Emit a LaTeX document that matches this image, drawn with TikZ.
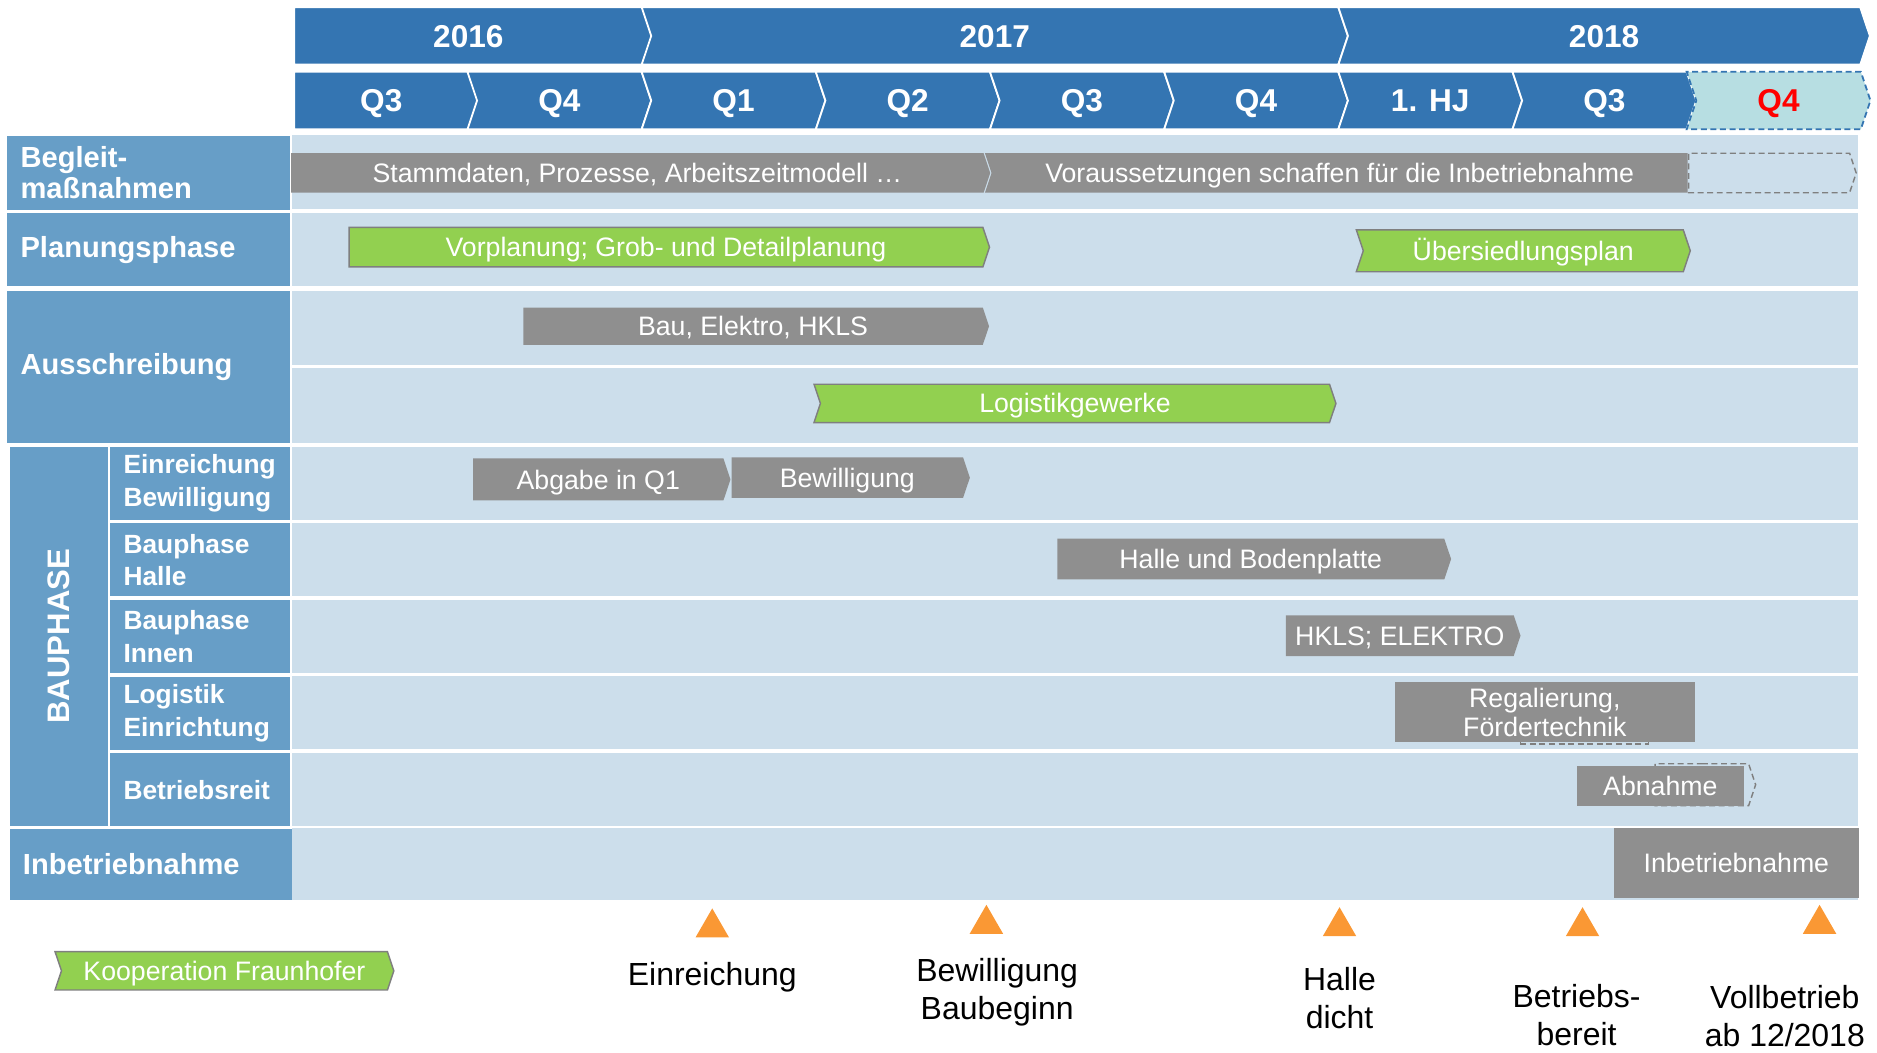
\documentclass[tikz,border=0pt]{standalone}
\usepackage{fontspec}
\setmainfont{Liberation Sans}
\usepackage{tikz}
\usetikzlibrary{shapes,arrows}
\definecolor{hdblue}{RGB}{52,117,178}
\definecolor{lblue}{RGB}{103,158,199}
\definecolor{rowbg}{RGB}{204,222,235}
\definecolor{bargray}{RGB}{143,143,143}
\definecolor{bargreen}{RGB}{146,208,80}
\definecolor{edgegray}{RGB}{127,127,127}
\definecolor{qteal}{RGB}{183,222,226}
\definecolor{msorange}{RGB}{250,152,52}
\newcommand{\fnthead}{\fontsize{26.4}{30}\selectfont\bfseries}
\newcommand{\fntrow}{\fontsize{24.3}{26}\selectfont\bfseries}
\newcommand{\fntsub}{\fontsize{22}{27}\selectfont\bfseries}
\newcommand{\fntbau}{\fontsize{26}{30}\selectfont\bfseries}
\newcommand{\fntbar}{\fontsize{22.3}{24}\selectfont}
\newcommand{\fntms}{\fontsize{26.7}{32}\selectfont}
\tikzstyle{yearbox} = [signal, signal to=east, signal from=nowhere, signal pointer angle=143,
    fill=hdblue, draw=white, line width=1.5pt, text=white, font=\fnthead, minimum height=48pt,
    inner sep=0pt, text height=19pt, text depth=0pt]
\tikzstyle{graybar} = [signal, signal to=east, signal from=nowhere, signal pointer angle=143,
    fill=bargray, text=white, font=\fntbar, inner sep=0pt, text height=16pt, text depth=0pt]
\tikzstyle{greenbar} = [graybar, fill=bargreen, draw=edgegray, line width=1.2pt]
\tikzstyle{dashbar} = [graybar, fill=none, draw=edgegray, dash pattern=on 5pt off 3pt, line width=1.2pt]
\tikzstyle{graybox} = [rectangle, fill=bargray, text=white, font=\fntbar, inner sep=0pt, align=center]
\tikzstyle{dashbox} = [rectangle, draw=edgegray, dash pattern=on 5pt off 3pt, line width=1.2pt]
\tikzstyle{rowlabel} = [rectangle, fill=lblue, text=white, font=\fntrow, anchor=north west, align=left,
    inner xsep=11pt, inner ysep=0pt, minimum width=236pt, text width=214pt]
\tikzstyle{sublabel} = [rowlabel, font=\fntsub, minimum width=150pt, text width=128pt]
\tikzstyle{milestone} = [regular polygon, regular polygon sides=3, fill=msorange, minimum size=32.3pt, inner sep=0pt]
\tikzstyle{mslabel} = [font=\fntms, align=center, inner sep=0pt]
\begin{document}
\begin{tikzpicture}[x=1pt, y=-1pt]
    \useasboundingbox (0,0) rectangle (1568,879);
    % Header
    \node [yearbox, anchor=west, minimum width=299pt] (y2016) at (245,30) {2016};
    \node [yearbox, signal from=west, minimum width=590pt] (y2017) at (831,30) {2017};
    \node [yearbox, signal from=west, minimum width=444pt] (y2018) at (1340,30) {2018};
    \node [yearbox, anchor=west, minimum width=153.5pt] (q0) at (245,84) {Q3};
    \foreach \lab [count=\k] in {Q4,Q1,Q2,Q3,Q4,1. HJ,Q3}
        \node [yearbox, signal from=west, minimum width=153.5pt] (q\k) at ({245+145.5*\k+76.75},84) {\lab};
    \node [yearbox, signal from=west, minimum width=153.5pt, fill=qteal, draw=hdblue,
        dash pattern=on 5pt off 3pt, text=red] (q8) at (1485.75,84) {Q4};
    % Rows
    \foreach \ya/\yb in {113/175,178/239,243/305,307/370,373/434,437/498,501/562,565/626,629/690,692/752}
        \fill [rowbg] (244,\ya) rectangle (1552,\yb);
    \node [rowlabel, minimum height=62pt] (lbeg) at (6,113) {Begleit-\\maßnahmen};
    \node [rowlabel, minimum height=61pt] (lplan) at (6,178) {Planungsphase};
    \node [rowlabel, minimum height=127pt] (laus) at (6,243) {Ausschreibung};
    \node [rectangle, fill=lblue, text=white, font=\fntbau, rotate=90, minimum width=317pt,
        minimum height=82pt, inner sep=0pt] (lbau) at (49,531.5) {BAUPHASE};
    \node [sublabel, minimum height=61pt] (lein) at (92,373) {Einreichung\\Bewilligung};
    \node [sublabel, minimum height=61pt] (lhal) at (92,437) {Bauphase\\Halle};
    \node [sublabel, minimum height=61pt] (linn) at (92,501) {Bauphase\\Innen};
    \node [sublabel, minimum height=61pt] (llog) at (92,565) {Logistik\\Einrichtung};
    \node [sublabel, minimum height=61pt] (lbet) at (92,629) {Betriebsreit};
    \node [rowlabel, minimum width=234pt, minimum height=60pt] (linb) at (8,692) {Inbetriebnahme};
    % Bars
    \node [graybar, anchor=west, minimum width=584pt, minimum height=33pt] (stamm) at (243,144.5) {Stammdaten, Prozesse, Arbeitszeitmodell …};
    \node [dashbar, anchor=west, minimum width=140pt, minimum height=33pt] (vorend) at (1410,144.5) {};
    \node [graybar, anchor=east, signal from=west, signal to=nowhere, minimum width=587pt, minimum height=33pt] (voraus) at (1410,144.5) {Voraussetzungen schaffen für die Inbetriebnahme};
    \node [greenbar, anchor=west, minimum width=535pt, minimum height=33pt] (vorplan) at (291,206.5) {Vorplanung; Grob- und Detailplanung};
    \node [greenbar, signal from=west, minimum width=279pt, minimum height=35pt] (uebers) at (1272.5,209.5) {Übersiedlungsplan};
    \node [graybar, anchor=west, minimum width=389pt, minimum height=31pt] (bau) at (437,272.5) {Bau, Elektro, HKLS};
    \node [greenbar, signal from=west, minimum width=436pt, minimum height=32pt] (logist) at (898,337) {Logistikgewerke};
    \node [graybar, anchor=west, minimum width=215pt, minimum height=35pt] (abgabe) at (395,400.5) {Abgabe in Q1};
    \node [graybar, anchor=west, minimum width=199pt, minimum height=34pt] (bewill) at (611,399) {Bewilligung};
    \node [graybar, anchor=west, minimum width=329pt, minimum height=34pt] (halle) at (883,467) {Halle und Bodenplatte};
    \node [graybar, anchor=west, minimum width=196pt, minimum height=34pt] (hkls) at (1074,531) {HKLS; ELEKTRO};
    \node [dashbox, minimum width=107pt, minimum height=51pt] (regalend) at (1323.5,596) {};
    \node [graybox, minimum width=251pt, minimum height=50pt] (regal) at (1290.5,595) {Regalierung,\\Fördertechnik};
    \node [dashbar, anchor=west, minimum width=84pt, minimum height=35pt] (abnend) at (1382,655.5) {};
    \node [graybox, minimum width=140pt, minimum height=33pt] (abnahme) at (1387,656.5) {Abnahme};
    \node [graybox, minimum width=205pt, minimum height=58pt] (inbbar) at (1450.5,721) {Inbetriebnahme};
    % Milestones
    \node [milestone] (m1) at (595,775) {};
    \node [milestone] (m2) at (824,772) {};
    \node [milestone] (m3) at (1119,774) {};
    \node [milestone] (m4) at (1322,774) {};
    \node [milestone] (m5) at (1520,772) {};
    \node [mslabel] (t1) at (595,816) {Einreichung};
    \node [mslabel] (t2) at (833,829) {Bewilligung\\Baubeginn};
    \node [mslabel] (t3) at (1119,834) {Halle\\dicht};
    \node [mslabel] (t4) at (1317,848) {Betriebs-\\bereit};
    \node [mslabel] (t5) at (1491,849) {Vollbetrieb\\ab 12/2018};
    % Legend
    \node [greenbar, signal from=west, minimum width=283pt, minimum height=32pt] (koop) at (187.5,811) {Kooperation Fraunhofer};
\end{tikzpicture}
\end{document}
